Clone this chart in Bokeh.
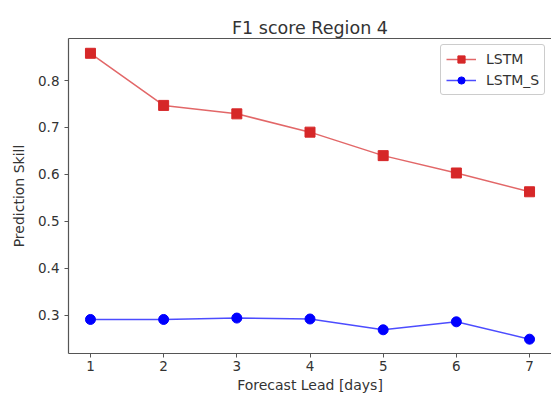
from bokeh.plotting import figure
from bokeh.models import LinearAxis, Range1d, Legend, LegendItem, FixedTicker
from bokeh.embed import file_html
from bokeh.resources import INLINE

lead_days = [1, 2, 3, 4, 5, 6, 7]
lstm = [0.858, 0.747, 0.729, 0.690, 0.640, 0.603, 0.563]
lstm_s = [0.291, 0.291, 0.294, 0.292, 0.269, 0.286, 0.249]
x_ticks = [1, 2, 3, 4, 5, 6, 7]
y_ticks = [0.3, 0.4, 0.5, 0.6, 0.7, 0.8]

FONT = "DejaVu Sans"
TXT = "#333333"
SPINE = "#555555"

p = figure(width=551, height=397, output_backend="svg", toolbar_location=None,
           x_range=Range1d(0.7, 7.3), y_range=Range1d(0.2185, 0.8895),
           min_border_left=68, min_border_right=0, min_border_top=38, min_border_bottom=44,
           title="F1 score Region 4")
p.background_fill_color = "white"
p.border_fill_color = "white"
p.outline_line_color = None
p.grid.visible = False

p.title.text_font = FONT
p.title.text_font_size = "17.5px"
p.title.text_font_style = "normal"
p.title.text_color = TXT
p.title.align = "center"
p.title.offset = 0
p.title.standoff = 2

for ax in (p.xaxis[0], p.yaxis[0]):
    ax.axis_line_color = SPINE
    ax.axis_line_width = 1.2
    ax.major_tick_line_color = SPINE
    ax.major_tick_out = 4
    ax.major_tick_in = 0
    ax.minor_tick_line_color = None
    ax.major_label_text_font = FONT
    ax.major_label_text_font_size = "13.5px"
    ax.major_label_text_color = TXT
    ax.axis_label_text_font = FONT
    ax.axis_label_text_font_size = "14px"
    ax.axis_label_text_font_style = "normal"
    ax.axis_label_text_color = TXT

p.xaxis[0].ticker = FixedTicker(ticks=x_ticks)
p.yaxis[0].ticker = FixedTicker(ticks=y_ticks)
p.xaxis[0].axis_label = "Forecast Lead [days]"
p.yaxis[0].axis_label = "Prediction Skill"
p.xaxis[0].major_label_standoff = 3
p.xaxis[0].axis_label_standoff = 3
p.yaxis[0].major_label_standoff = 5
p.yaxis[0].axis_label_standoff = 8

top = LinearAxis(ticker=FixedTicker(ticks=[]), axis_line_color=SPINE, axis_line_width=1.2,
                 major_tick_line_color=None, minor_tick_line_color=None,
                 major_tick_out=0, major_tick_in=0, major_label_standoff=0)
p.add_layout(top, "above")

RED = "#d62728"
BLUE = "#0000ff"
l1 = p.line(lead_days, lstm, line_color=RED, line_width=1.5, line_alpha=0.7)
s1 = p.scatter(lead_days, lstm, marker="square", size=10, fill_color=RED, line_color=RED)
l2 = p.line(lead_days, lstm_s, line_color=BLUE, line_width=1.5, line_alpha=0.7)
s2 = p.scatter(lead_days, lstm_s, marker="circle", size=10, fill_color=BLUE, line_color=BLUE)

legend = Legend(items=[LegendItem(label="LSTM", renderers=[l1, s1]),
                       LegendItem(label="LSTM_S", renderers=[l2, s2])],
                location=(372, 258))
legend.label_text_font = FONT
legend.label_text_font_size = "14px"
legend.label_text_color = TXT
legend.border_line_color = "#cccccc"
legend.border_line_alpha = 1
legend.border_radius = 3
legend.glyph_width = 30
legend.glyph_height = 18
legend.label_standoff = 10
legend.padding = 5
legend.spacing = 3
legend.margin = 0
legend.background_fill_alpha = 0.9
p.add_layout(legend, "center")

open("out.html", "w").write(file_html(p, INLINE))
